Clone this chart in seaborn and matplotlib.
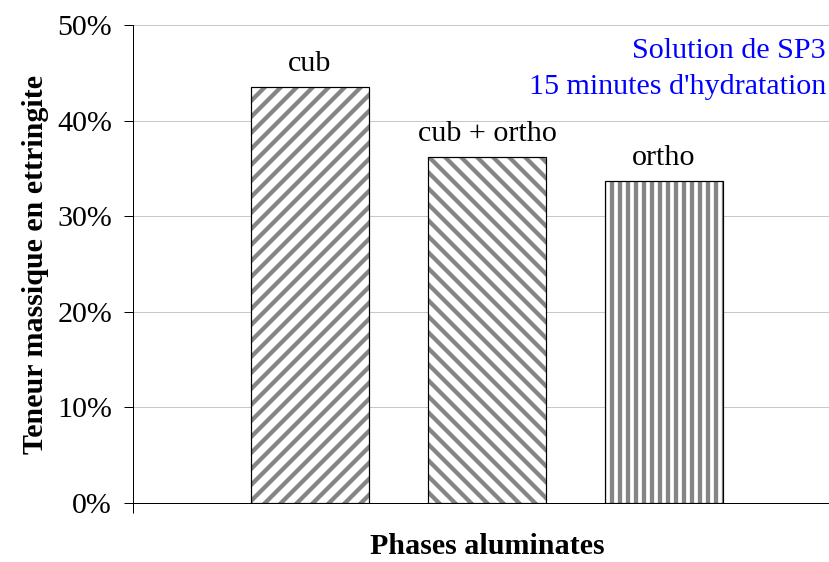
import matplotlib
matplotlib.use("Agg")
import matplotlib.pyplot as plt
from matplotlib.patches import Rectangle
from matplotlib.ticker import PercentFormatter
import seaborn as sns
import pandas as pd

phases = ["cub", "cub + ortho", "ortho"]
teneur = [0.435, 0.362, 0.337]
hatches = ["/", "\\", "|"]
note_lines = ["Solution de SP3", "15 minutes d'hydratation"]

DPI = 48
PX = 72 / DPI  # points per pixel

sns.set_style("white")
plt.rcParams["font.family"] = ["Liberation Serif", "DejaVu Serif"]
plt.rcParams["hatch.linewidth"] = 4.3 * PX
plt.rcParams["text.color"] = "black"
plt.rcParams["axes.labelcolor"] = "black"
plt.rcParams["ytick.color"] = "black"
plt.rcParams["xtick.color"] = "black"

df = pd.DataFrame({"phase": phases, "teneur": teneur})

fig = plt.figure(figsize=(829 / DPI, 562 / DPI), dpi=DPI)
ax = fig.add_axes([133 / 829, 59 / 562, 708 / 829, 478 / 562])

sns.barplot(data=df, x="phase", y="teneur", color="white", width=0.67,
            edgecolor="#858585", linewidth=0, ax=ax, zorder=2)

for patch, h in zip(ax.patches, hatches):
    patch.set_hatch(h)
    ax.add_patch(Rectangle(patch.get_xy(), patch.get_width(), patch.get_height(),
                           fill=False, edgecolor="black", linewidth=1.2 * PX, zorder=3))

fs = 30 * PX
ax.bar_label(ax.containers[0], labels=phases, padding=10 * PX, fontsize=fs, color="black")

ax.set_xlim(-1, 3)
ax.set_ylim(0, 0.5)
ax.yaxis.set_major_formatter(PercentFormatter(1.0, decimals=0))
ax.set_yticks([0, 0.1, 0.2, 0.3, 0.4, 0.5])
ax.set_xticks([-1])
ax.set_xticklabels([""])
ax.tick_params(axis="y", direction="out", length=9 * PX, width=1 * PX, labelsize=fs,
               pad=12 * PX, left=True, labelcolor="black")
ax.tick_params(axis="x", direction="out", length=10 * PX, width=1 * PX, bottom=True)
ax.yaxis.grid(True, color="#c8c8c8", linewidth=1 * PX)
ax.set_axisbelow(True)

for side in ["top", "right"]:
    ax.spines[side].set_visible(False)
for side in ["left", "bottom"]:
    ax.spines[side].set_color("black")
    ax.spines[side].set_linewidth(1 * PX)

ax.set_xlabel("Phases aluminates", fontsize=fs, fontweight="bold", labelpad=18 * PX, color="black")
ax.set_ylabel("Teneur massique en ettringite", fontsize=fs, fontweight="bold", labelpad=8 * PX, color="black")

fig.text(826 / 829, 1 - 58 / 562, note_lines[0], color="#0000ff", fontsize=fs, ha="right")
fig.text(826 / 829, 1 - 94 / 562, note_lines[1], color="#0000ff", fontsize=fs, ha="right")

fig.savefig("out.png", dpi=DPI)
